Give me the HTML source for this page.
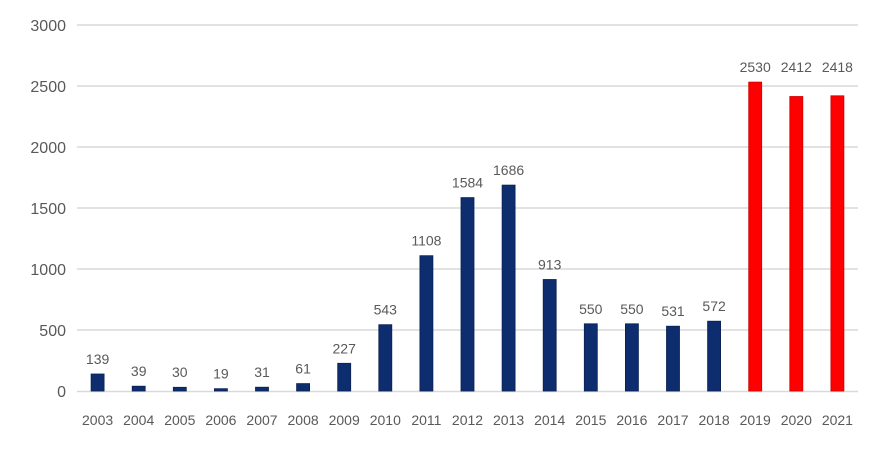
<!DOCTYPE html>
<html><head><meta charset="utf-8"><style>
body{margin:0;background:#fff;}
svg text{font-family:"Liberation Sans","Noto Sans CJK SC",sans-serif;fill:#595959;}
</style></head><body>
<svg width="887" height="451" xmlns="http://www.w3.org/2000/svg">
<g stroke="#d9d9d9" stroke-width="1.5">
<line x1="77" x2="858" y1="25" y2="25"/>
<line x1="77" x2="858" y1="86" y2="86"/>
<line x1="77" x2="858" y1="147" y2="147"/>
<line x1="77" x2="858" y1="208" y2="208"/>
<line x1="77" x2="858" y1="269" y2="269"/>
<line x1="77" x2="858" y1="330" y2="330"/>
<line x1="77" x2="858" y1="391.5" y2="391.5"/>
</g>
<g font-size="16" text-anchor="end">
<text x="66" y="31">3000</text>
<text x="66" y="92">2500</text>
<text x="66" y="153">2000</text>
<text x="66" y="214">1500</text>
<text x="66" y="275">1000</text>
<text x="66" y="336">500</text>
<text x="66" y="397">0</text>
</g>
<g fill="#0e2d6e" stroke="#0a2050" stroke-width="0.8">
<rect x="91.1" y="374.0" width="13" height="17.0"/>
<rect x="132.2" y="386.2" width="13" height="4.8"/>
<rect x="173.3" y="387.3" width="13" height="3.7"/>
<rect x="214.4" y="388.7" width="13" height="2.3"/>
<rect x="255.5" y="387.2" width="13" height="3.8"/>
<rect x="296.6" y="383.6" width="13" height="7.4"/>
<rect x="337.7" y="363.3" width="13" height="27.7"/>
<rect x="378.8" y="324.7" width="13" height="66.3"/>
<rect x="419.9" y="255.7" width="13" height="135.3"/>
<rect x="461.0" y="197.6" width="13" height="193.4"/>
<rect x="502.1" y="185.1" width="13" height="205.9"/>
<rect x="543.2" y="279.5" width="13" height="111.5"/>
<rect x="584.3" y="323.8" width="13" height="67.2"/>
<rect x="625.4" y="323.8" width="13" height="67.2"/>
<rect x="666.5" y="326.2" width="13" height="64.8"/>
<rect x="707.6" y="321.2" width="13" height="69.8"/>
</g>
<g fill="#ff0000" stroke="#cc0000" stroke-width="0.8">
<rect x="748.7" y="82.1" width="13" height="308.9"/>
<rect x="789.8" y="96.5" width="13" height="294.5"/>
<rect x="830.9" y="95.8" width="13" height="295.2"/>
</g>
<g font-size="14" text-anchor="middle">
<text x="97.6" y="364">139</text>
<text x="138.7" y="376">39</text>
<text x="179.8" y="377">30</text>
<text x="220.9" y="378.7">19</text>
<text x="262.0" y="377">31</text>
<text x="303.1" y="373.6">61</text>
<text x="344.2" y="353.3">227</text>
<text x="385.3" y="314.7">543</text>
<text x="426.4" y="245.7">1108</text>
<text x="467.5" y="187.6">1584</text>
<text x="508.6" y="175.1">1686</text>
<text x="549.7" y="269.5">913</text>
<text x="590.8" y="313.8">550</text>
<text x="631.9" y="313.8">550</text>
<text x="673.0" y="316.2">531</text>
<text x="714.1" y="311.2">572</text>
<text x="755.2" y="72.1">2530</text>
<text x="796.3" y="72.1">2412</text>
<text x="837.4" y="72.1">2418</text>
</g>
<g font-size="14" text-anchor="middle">
<text x="97.6" y="425">2003</text>
<text x="138.7" y="425">2004</text>
<text x="179.8" y="425">2005</text>
<text x="220.9" y="425">2006</text>
<text x="262.0" y="425">2007</text>
<text x="303.1" y="425">2008</text>
<text x="344.2" y="425">2009</text>
<text x="385.3" y="425">2010</text>
<text x="426.4" y="425">2011</text>
<text x="467.5" y="425">2012</text>
<text x="508.6" y="425">2013</text>
<text x="549.7" y="425">2014</text>
<text x="590.8" y="425">2015</text>
<text x="631.9" y="425">2016</text>
<text x="673.0" y="425">2017</text>
<text x="714.1" y="425">2018</text>
<text x="755.2" y="425">2019</text>
<text x="796.3" y="425">2020</text>
<text x="837.4" y="425">2021</text>
</g>
</svg>
</body></html>
